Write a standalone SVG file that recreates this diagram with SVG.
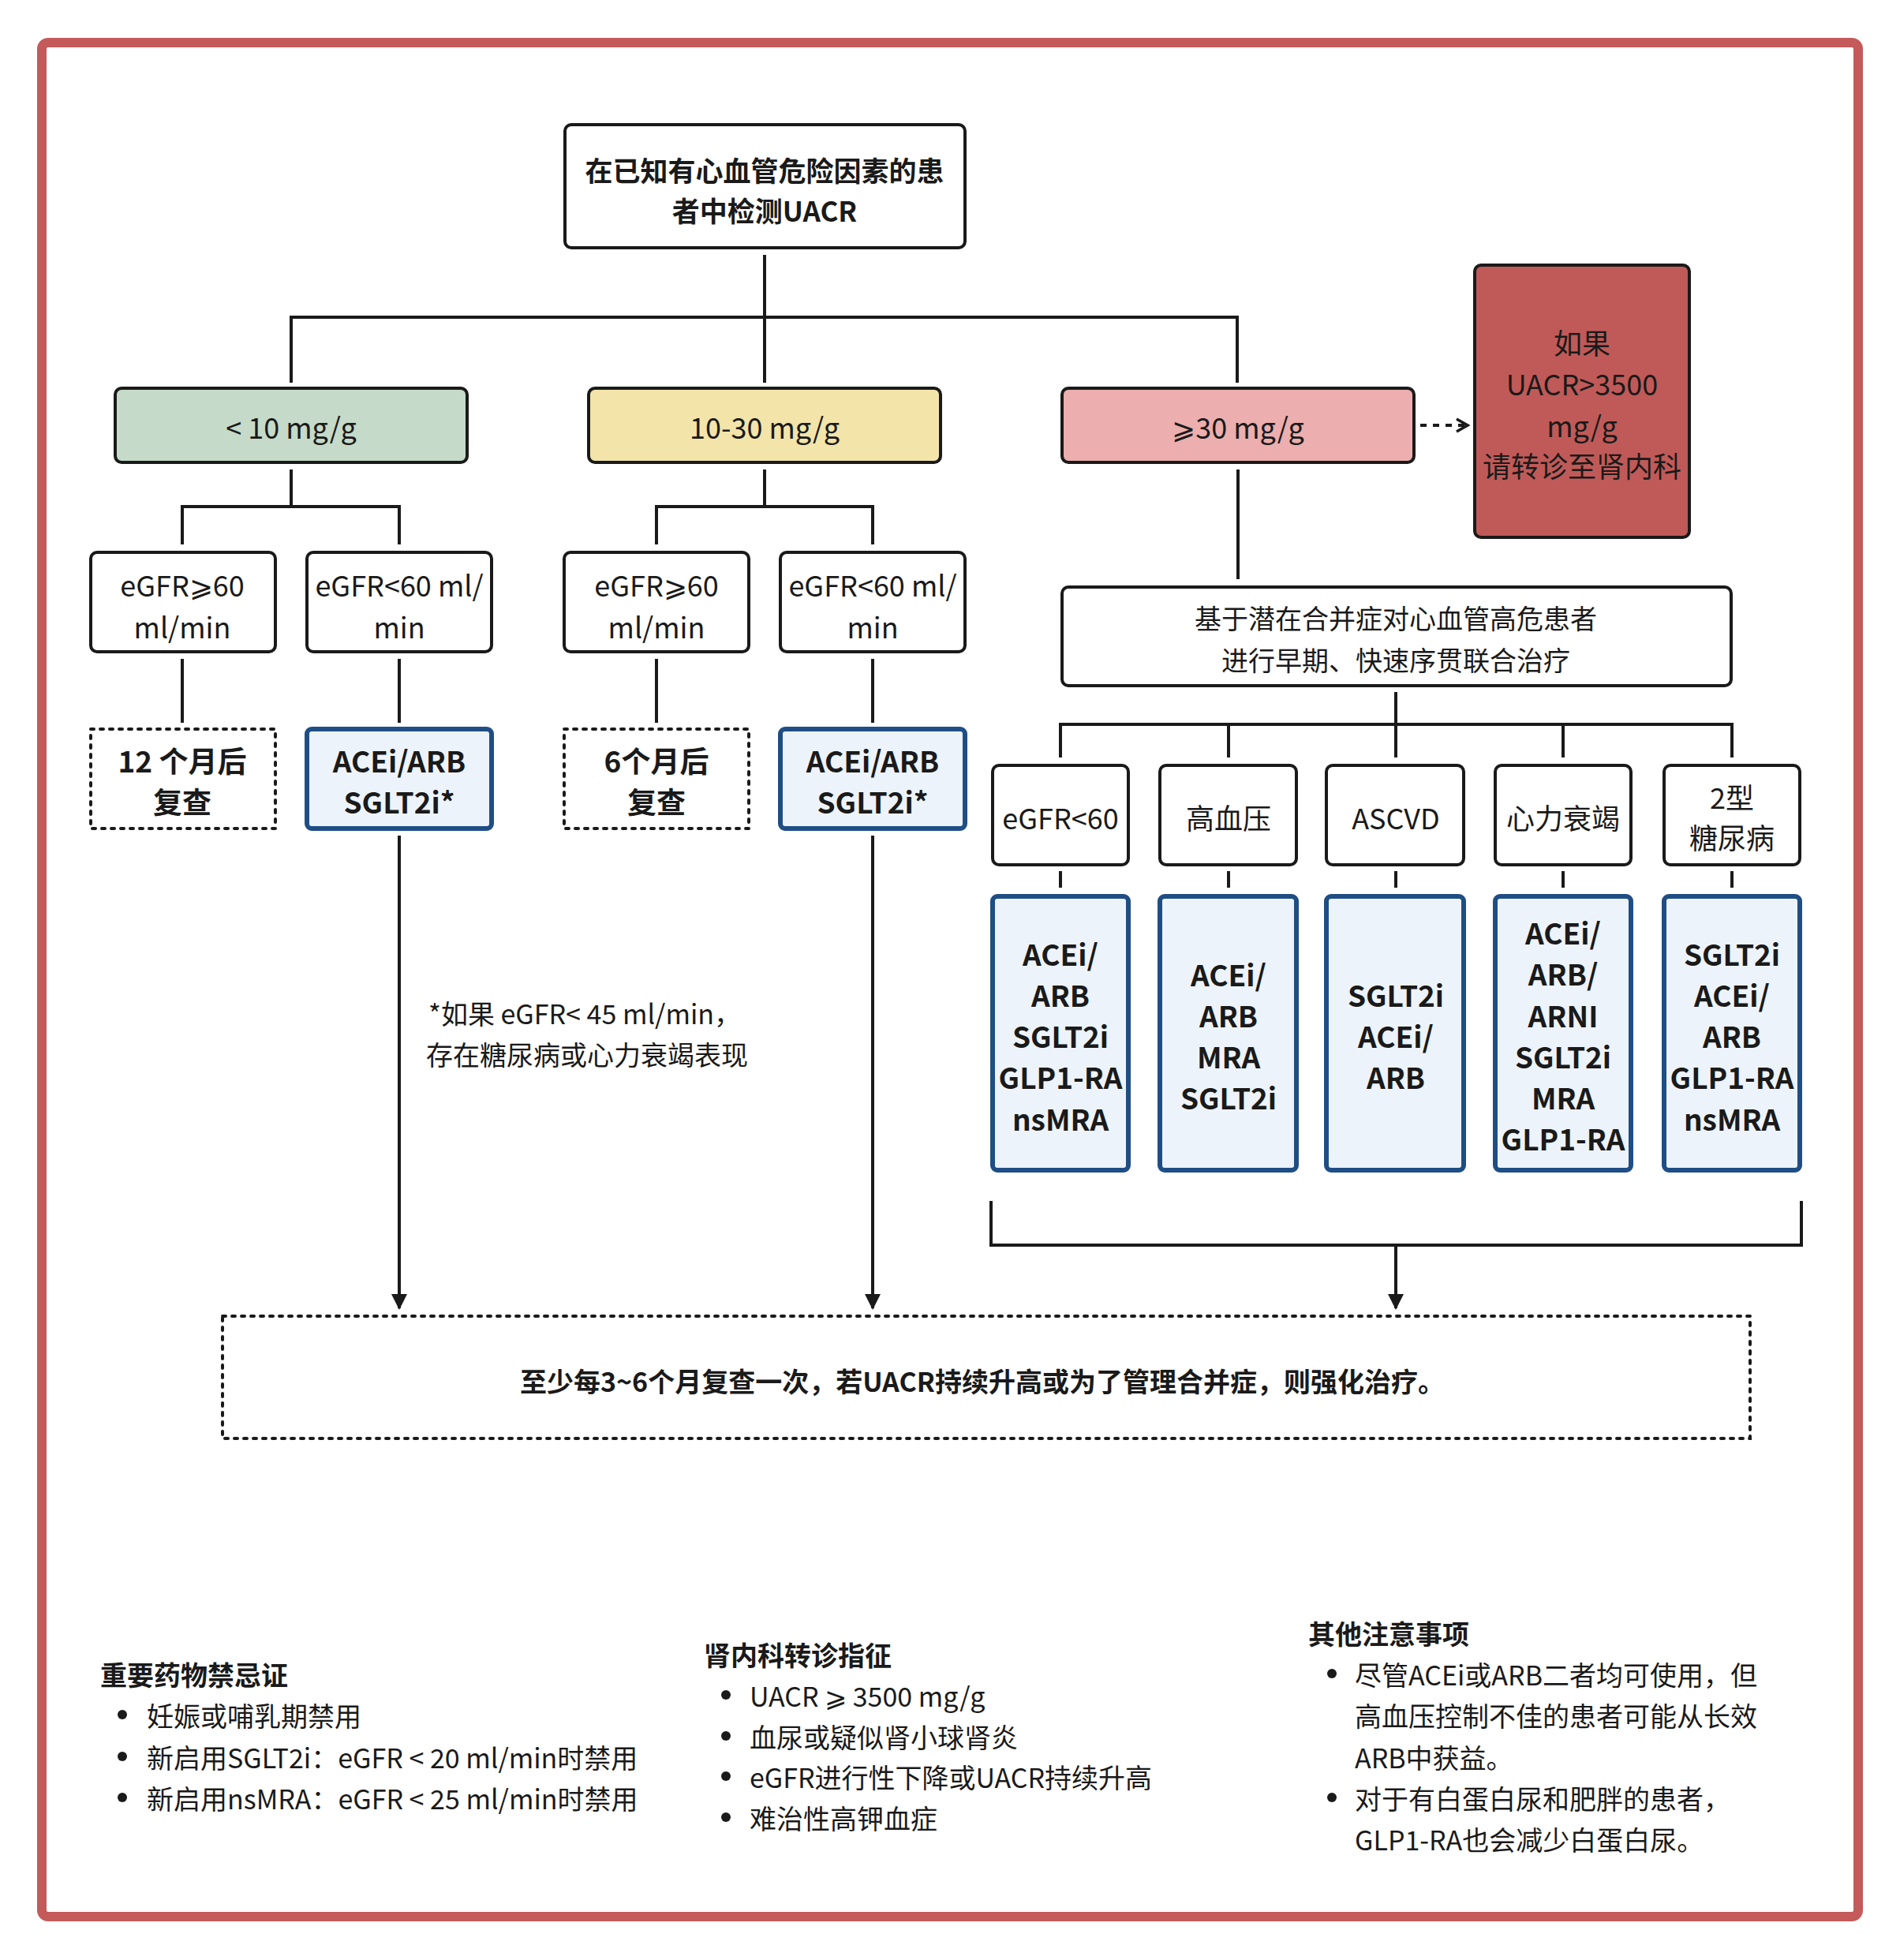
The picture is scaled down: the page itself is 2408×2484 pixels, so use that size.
<svg xmlns="http://www.w3.org/2000/svg" width="2408" height="2484" viewBox="0 0 2408 2484">
<defs>
<style>
text{font-family:"Noto Sans CJK SC","Noto Sans",sans-serif;fill:#1a1a1a;text-anchor:middle;dominant-baseline:central}
.b{font-weight:bold}
.n{fill:#fff;stroke:#1a1a1a;stroke-width:4}
.rx{fill:#edf3fb;stroke:#1f4e85;stroke-width:6}
.dot{fill:#fff;stroke:#1a1a1a;stroke-width:4;stroke-dasharray:4 8;stroke-linecap:round}
.c line,.c path{stroke:#1a1a1a;stroke-width:4;fill:none}
.l{text-anchor:start;font-size:34px}
.t{font-size:36px}
.m{font-size:37px;font-weight:bold}
</style>
<marker id="ah" viewBox="0 0 10 10" refX="9" refY="5" markerWidth="5" markerHeight="5" orient="auto"><path d="M0,0L10,5L0,10z" fill="#1a1a1a"/></marker>
<marker id="oa" viewBox="0 0 10 10" refX="8" refY="5" markerWidth="5" markerHeight="5" orient="auto"><path d="M1,1L8,5L1,9" fill="none" stroke="#1a1a1a" stroke-width="1.8"/></marker>
</defs>
<rect x="0" y="0" width="2408" height="2484" fill="#fff"/>
<rect x="53" y="54" width="2302" height="2375" rx="8" fill="none" stroke="#c45a5a" stroke-width="12"/>

<g class="c">
<line x1="969" y1="323" x2="969" y2="485"/>
<path d="M369,485V402H1568V485"/>
<line x1="369" y1="595" x2="369" y2="642"/>
<path d="M231,690V642H506V690"/>
<line x1="969" y1="595" x2="969" y2="642"/>
<path d="M832,690V642H1106V690"/>
<line x1="231" y1="835" x2="231" y2="916"/>
<line x1="506" y1="835" x2="506" y2="916"/>
<line x1="832" y1="835" x2="832" y2="916"/>
<line x1="1106" y1="835" x2="1106" y2="916"/>
<line x1="506" y1="1059" x2="506" y2="1658" marker-end="url(#ah)"/>
<line x1="1106" y1="1059" x2="1106" y2="1658" marker-end="url(#ah)"/>
<line x1="1800" y1="539" x2="1860" y2="539" stroke-dasharray="8 8" marker-end="url(#oa)"/>
<line x1="1569" y1="595" x2="1569" y2="734"/>
<line x1="1769" y1="877" x2="1769" y2="918"/>
<path d="M1344,960V918H2195V960"/>
<line x1="1557" y1="918" x2="1557" y2="960"/>
<line x1="1769" y1="918" x2="1769" y2="960"/>
<line x1="1981" y1="918" x2="1981" y2="960"/>
<line x1="1344" y1="1104" x2="1344" y2="1125"/>
<line x1="1557" y1="1104" x2="1557" y2="1125"/>
<line x1="1769" y1="1104" x2="1769" y2="1125"/>
<line x1="1981" y1="1104" x2="1981" y2="1125"/>
<line x1="2195" y1="1104" x2="2195" y2="1125"/>
<path d="M1256,1522V1578H2283V1522"/>
<line x1="1769" y1="1578" x2="1769" y2="1658" marker-end="url(#ah)"/>
</g>

<g id="top"><rect class="n" x="716" y="158" width="507" height="156" rx="8"/>
<text class="b" x="969" y="214" font-size="35">在已知有心血管危险因素的患</text>
<text class="b" x="969" y="265" font-size="35">者中检测UACR</text></g>

<g id="lv1"><rect x="146" y="492" width="446" height="94" rx="8" fill="#c5dac8" stroke="#1a1a1a" stroke-width="4"/><text class="t" x="369" y="540">&lt; 10 mg/g</text></g>
<g id="lv2"><rect x="746" y="492" width="446" height="94" rx="8" fill="#f3e4a9" stroke="#1a1a1a" stroke-width="4"/><text class="t" x="969" y="540">10-30 mg/g</text></g>
<g id="lv3"><rect x="1346" y="492" width="446" height="94" rx="8" fill="#ecaeae" stroke="#1a1a1a" stroke-width="4"/><text class="t" x="1569" y="540">⩾30 mg/g</text></g>
<g id="refer"><rect x="1869" y="336" width="272" height="345" rx="8" fill="#c05a58" stroke="#1a1a1a" stroke-width="4"/>
<text class="t" x="2005" y="433">如果</text><text class="t" x="2005" y="485">UACR&gt;3500</text><text class="t" x="2005" y="538">mg/g</text><text class="t" x="2005" y="589">请转诊至肾内科</text></g>

<g id="g1"><rect class="n" x="115" y="700" width="234" height="126" rx="8"/><text class="t" x="231" y="740">eGFR⩾60</text><text class="t" x="231" y="793">ml/min</text></g>
<g id="g2"><rect class="n" x="389" y="700" width="234" height="126" rx="8"/><text class="t" x="506" y="740">eGFR&lt;60 ml/</text><text class="t" x="506" y="793">min</text></g>
<g id="y1"><rect class="n" x="715" y="700" width="234" height="126" rx="8"/><text class="t" x="832" y="740">eGFR⩾60</text><text class="t" x="832" y="793">ml/min</text></g>
<g id="y2"><rect class="n" x="989" y="700" width="234" height="126" rx="8"/><text class="t" x="1106" y="740">eGFR&lt;60 ml/</text><text class="t" x="1106" y="793">min</text></g>

<g id="g1r"><rect class="dot" x="115" y="924" width="234" height="126"/><text class="m" x="231" y="963">12 个月后</text><text class="m" x="231" y="1015">复查</text></g>
<g id="g2r"><rect class="rx" x="389" y="924" width="234" height="126" rx="6"/><text class="m" x="506" y="963">ACEi/ARB</text><text class="m" x="506" y="1015">SGLT2i*</text></g>
<g id="y1r"><rect class="dot" x="715" y="924" width="234" height="126"/><text class="m" x="832" y="963">6个月后</text><text class="m" x="832" y="1015">复查</text></g>
<g id="y2r"><rect class="rx" x="989" y="924" width="234" height="126" rx="6"/><text class="m" x="1106" y="963">ACEi/ARB</text><text class="m" x="1106" y="1015">SGLT2i*</text></g>

<g id="note"><text class="l" x="543" y="1283">*如果 eGFR&lt; 45 ml/min，</text><text class="l" x="540" y="1335">存在糖尿病或心力衰竭表现</text></g>

<g id="combo"><rect class="n" x="1346" y="744" width="848" height="125" rx="8"/>
<text x="1769" y="782" font-size="34">基于潜在合并症对心血管高危患者</text>
<text x="1769" y="835" font-size="34">进行早期、快速序贯联合治疗</text></g>

<g id="c1"><rect class="n" x="1258" y="970" width="172" height="126" rx="8"/><text class="t" x="1344" y="1035">eGFR&lt;60</text></g>
<g id="c2"><rect class="n" x="1470" y="970" width="173" height="126" rx="8"/><text class="t" x="1557" y="1035">高血压</text></g>
<g id="c3"><rect class="n" x="1681" y="970" width="174" height="126" rx="8"/><text class="t" x="1769" y="1035">ASCVD</text></g>
<g id="c4"><rect class="n" x="1895" y="970" width="172" height="126" rx="8"/><text class="t" x="1981" y="1035">心力衰竭</text></g>
<g id="c5"><rect class="n" x="2109" y="970" width="172" height="126" rx="8"/><text class="t" x="2195" y="1009">2型</text><text class="t" x="2195" y="1060">糖尿病</text></g>

<g id="d1"><rect class="rx" x="1258" y="1136" width="172" height="347" rx="6"/>
<text class="m" x="1344" y="1208">ACEi/</text><text class="m" x="1344" y="1260">ARB</text><text class="m" x="1344" y="1312">SGLT2i</text><text class="m" x="1344" y="1364">GLP1-RA</text><text class="m" x="1344" y="1417">nsMRA</text></g>
<g id="d2"><rect class="rx" x="1470" y="1136" width="173" height="347" rx="6"/>
<text class="m" x="1557" y="1234">ACEi/</text><text class="m" x="1557" y="1286">ARB</text><text class="m" x="1557" y="1338">MRA</text><text class="m" x="1557" y="1390">SGLT2i</text></g>
<g id="d3"><rect class="rx" x="1681" y="1136" width="174" height="347" rx="6"/>
<text class="m" x="1769" y="1260">SGLT2i</text><text class="m" x="1769" y="1312">ACEi/</text><text class="m" x="1769" y="1364">ARB</text></g>
<g id="d4"><rect class="rx" x="1895" y="1136" width="172" height="347" rx="6"/>
<text class="m" x="1981" y="1181">ACEi/</text><text class="m" x="1981" y="1233">ARB/</text><text class="m" x="1981" y="1286">ARNI</text><text class="m" x="1981" y="1338">SGLT2i</text><text class="m" x="1981" y="1390">MRA</text><text class="m" x="1981" y="1442">GLP1-RA</text></g>
<g id="d5"><rect class="rx" x="2109" y="1136" width="172" height="347" rx="6"/>
<text class="m" x="2195" y="1208">SGLT2i</text><text class="m" x="2195" y="1260">ACEi/</text><text class="m" x="2195" y="1312">ARB</text><text class="m" x="2195" y="1364">GLP1-RA</text><text class="m" x="2195" y="1417">nsMRA</text></g>

<g id="final"><rect class="dot" x="282" y="1668" width="1936" height="155"/>
<text class="b" x="1245" y="1749" font-size="34">至少每3~6个月复查一次，若UACR持续升高或为了管理合并症，则强化治疗。</text></g>

<g id="sec1">
<text class="l b" x="127" y="2121">重要药物禁忌证</text>
<circle cx="155" cy="2173" r="6" fill="#1a1a1a"/><text class="l" x="186" y="2173">妊娠或哺乳期禁用</text>
<circle cx="155" cy="2226" r="6" fill="#1a1a1a"/><text class="l" x="186" y="2226">新启用SGLT2i：eGFR &lt; 20 ml/min时禁用</text>
<circle cx="155" cy="2278" r="6" fill="#1a1a1a"/><text class="l" x="186" y="2278">新启用nsMRA：eGFR &lt; 25 ml/min时禁用</text>
</g>
<g id="sec2">
<text class="l b" x="892" y="2096">肾内科转诊指征</text>
<circle cx="920" cy="2148" r="6" fill="#1a1a1a"/><text class="l" x="950" y="2148">UACR ⩾ 3500 mg/g</text>
<circle cx="920" cy="2200" r="6" fill="#1a1a1a"/><text class="l" x="950" y="2200">血尿或疑似肾小球肾炎</text>
<circle cx="920" cy="2251" r="6" fill="#1a1a1a"/><text class="l" x="950" y="2251">eGFR进行性下降或UACR持续升高</text>
<circle cx="920" cy="2303" r="6" fill="#1a1a1a"/><text class="l" x="950" y="2303">难治性高钾血症</text>
</g>
<g id="sec3">
<text class="l b" x="1658" y="2069">其他注意事项</text>
<circle cx="1688" cy="2121" r="6" fill="#1a1a1a"/><text class="l" x="1717" y="2121">尽管ACEi或ARB二者均可使用，但</text>
<text class="l" x="1717" y="2173">高血压控制不佳的患者可能从长效</text>
<text class="l" x="1717" y="2226">ARB中获益。</text>
<circle cx="1688" cy="2278" r="6" fill="#1a1a1a"/><text class="l" x="1717" y="2278">对于有白蛋白尿和肥胖的患者，</text>
<text class="l" x="1717" y="2330">GLP1-RA也会减少白蛋白尿。</text>
</g>
</svg>
